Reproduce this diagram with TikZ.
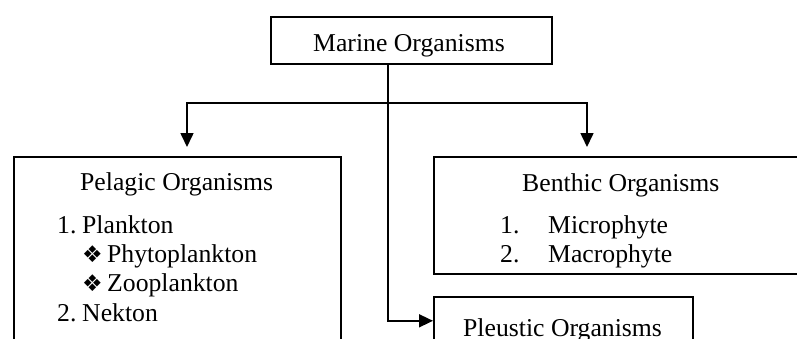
\documentclass[tikz,border=0pt]{standalone}
\usepackage{fontspec}
\setmainfont{Liberation Serif}
\newfontfamily\symfont{DejaVu Sans}
\usetikzlibrary{arrows.meta}
\begin{document}
\begin{tikzpicture}[x=1pt,y=-1pt,
  box/.style={draw, line width=1.6pt, inner sep=0pt, anchor=north west},
  txt/.style={anchor=base west, inner sep=0pt, font=\fontsize{25.7}{30}\selectfont},
  bul/.style={anchor=base west, inner sep=0pt, font=\symfont\fontsize{23}{26}\selectfont},
  conn/.style={line width=1.6pt},
  arr/.style={conn, -{Triangle[width=13pt,length=14pt]}}]
\useasboundingbox (0,0) rectangle (797,338);
\clip (0,0) rectangle (797,338);
% boxes
\node[box, minimum width=281pt, minimum height=47pt] (marine) at (270,16) {};
\node[box, minimum width=327pt, minimum height=200pt] (pelagic) at (13,156) {};
\node[box, minimum width=400pt, minimum height=117pt] (benthic) at (433,156) {};
\node[box, minimum width=259pt, minimum height=48pt] (pleustic) at (433,296) {};
% connectors
\coordinate (split) at (388,103);
\coordinate (ltip) at (187,147);
\coordinate (rtip) at (587,147);
\draw[conn] (marine.south -| split) -- (split);
\draw[arr] (split) -| (ltip);
\draw[arr] (split) -| (rtip);
\draw[arr] (split) |- (pleustic.west);
% texts
\node[txt] (marinet) at (313,51) {Marine Organisms};
\node[txt] (pelt) at (80,190) {Pelagic Organisms};
\node[txt] (pn1) at (57,233) {1.};
\node[txt] (pl) at (82,233) {Plankton};
\node[bul] (d1) at (82,262) {❖};
\node[txt] (phy) at (107,262) {Phytoplankton};
\node[bul] (d2) at (82,291) {❖};
\node[txt] (zoo) at (107,291) {Zooplankton};
\node[txt] (pn2) at (57,321) {2.};
\node[txt] (nek) at (82,321) {Nekton};
\begin{scope}
\clip (433,156) rectangle (797,273);
\node[txt] (bent) at (522,191) {Benthic Organisms};
\node[txt] (bn1) at (500,233) {1.};
\node[txt] (mic) at (548,233) {Microphyte};
\node[txt] (bn2) at (500,262) {2.};
\node[txt] (mac) at (548,262) {Macrophyte};
\end{scope}
\node[txt] (pleut) at (463,336) {Pleustic Organisms};
\end{tikzpicture}
\end{document}
